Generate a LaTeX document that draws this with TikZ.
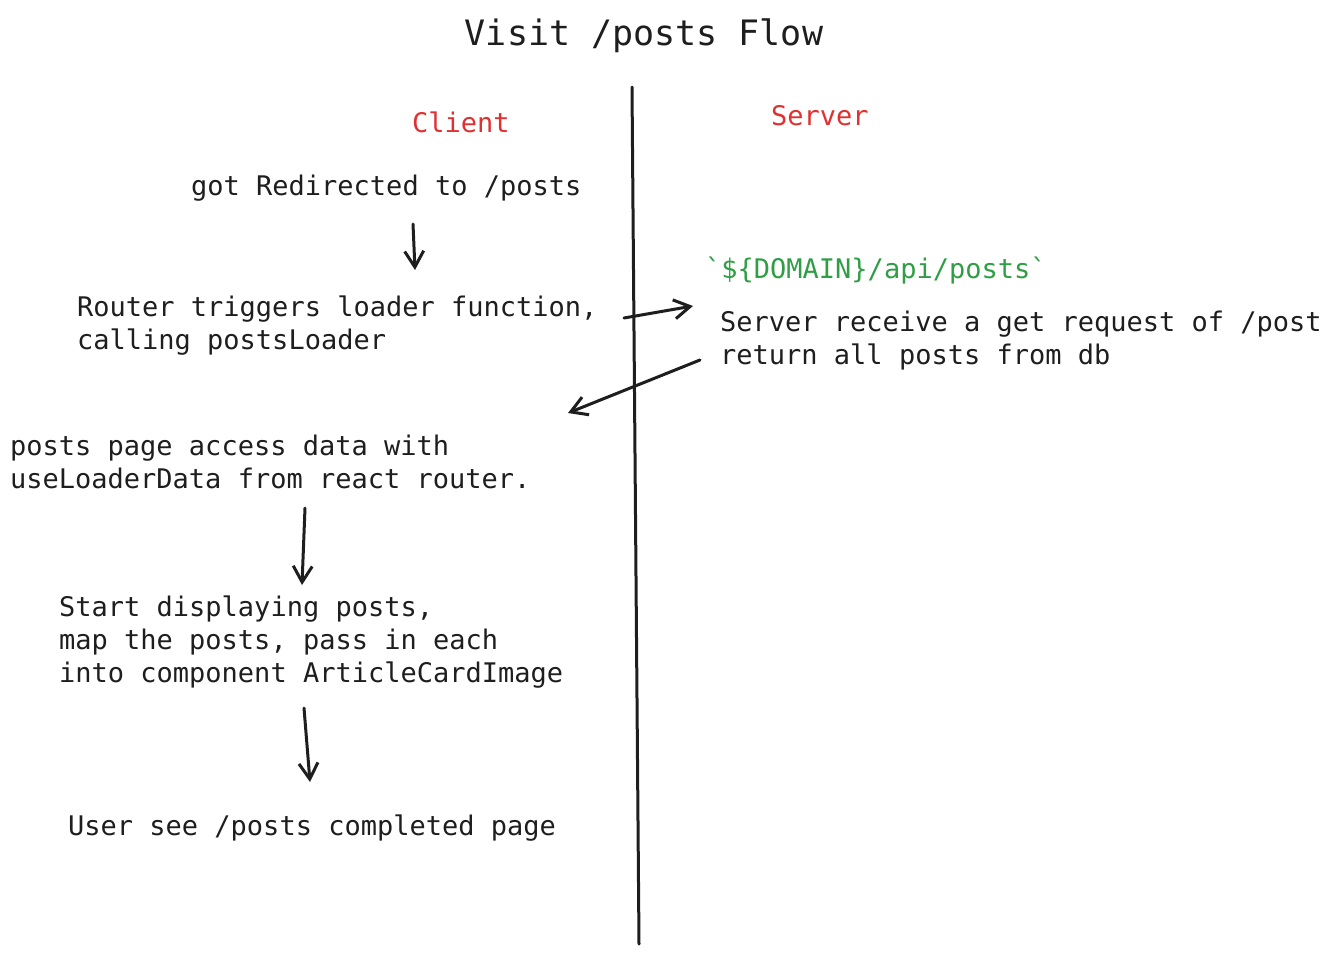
\documentclass[tikz,border=0pt]{standalone}
\usepackage{fontspec}
\setmonofont{DejaVu Sans Mono}
\usetikzlibrary{arrows.meta}
\definecolor{inkblack}{HTML}{1E1E1E}
\definecolor{sidered}{HTML}{E03131}
\definecolor{urlgreen}{HTML}{2F9E44}

\begin{document}
\begin{tikzpicture}[x=1pt,y=-1pt,
  txt/.style={anchor=base west,inner sep=0pt,align=left,text=inkblack,
    font=\ttfamily\fontsize{27}{33}\selectfont},
  side/.style={txt,text=sidered},
  flow/.style={draw=inkblack,line width=3pt,line cap=round,
    -{Straight Barb[length=16pt,width=19pt]}}]
  \useasboundingbox (0,0) rectangle (1336,954);

  % title
  \node[txt,anchor=base,font=\ttfamily\fontsize{35}{42}\selectfont] (title) at (644,45) {Visit /posts Flow};

  % the two sides
  \coordinate (divtop) at (632,87);
  \coordinate (divbot) at (639,944);
  \draw[inkblack,line width=3pt,line cap=round] (divtop) -- (divbot);
  \node[side] (client) at (412,132) {Client};
  \node[side] (server) at (771,125) {Server};

  % client steps (base = last line)
  \node[txt] (redirect) at (191,195) {got Redirected to /posts};
  \node[txt] (loader) at (77,349) {Router triggers loader function,\\calling postsLoader};
  \node[txt] (access) at (10,488) {posts page access data with\\useLoaderData from react router.};
  \node[txt] (display) at (59,682) {Start displaying posts,\\map the posts, pass in each\\into component ArticleCardImage};
  \node[txt] (done) at (68,835) {User see /posts completed page};

  % server side
  \node[txt,text=urlgreen] (url) at (705,278) {\symbol{96}\$\{DOMAIN\}/api/posts\symbol{96}};
  \node[txt] (handler) at (720,364) {Server receive a get request of /post\\return all posts from db};

  % arrows
  \coordinate (redirect-out) at (413,224);
  \coordinate (loader-in) at (415,270);
  \coordinate (loader-out) at (624,318);
  \coordinate (handler-in) at (693,306);
  \coordinate (handler-out) at (700,360);
  \coordinate (access-in) at (568,413);
  \coordinate (access-out) at (305,508);
  \coordinate (display-in) at (302,585);
  \coordinate (display-out) at (304,708);
  \coordinate (done-in) at (310,782);

  \draw[flow] (redirect-out) -- (loader-in);
  \draw[flow] (loader-out) -- (handler-in);
  \draw[flow] (handler-out) -- (access-in);
  \draw[flow] (access-out) -- (display-in);
  \draw[flow] (display-out) -- (done-in);
\end{tikzpicture}
\end{document}
